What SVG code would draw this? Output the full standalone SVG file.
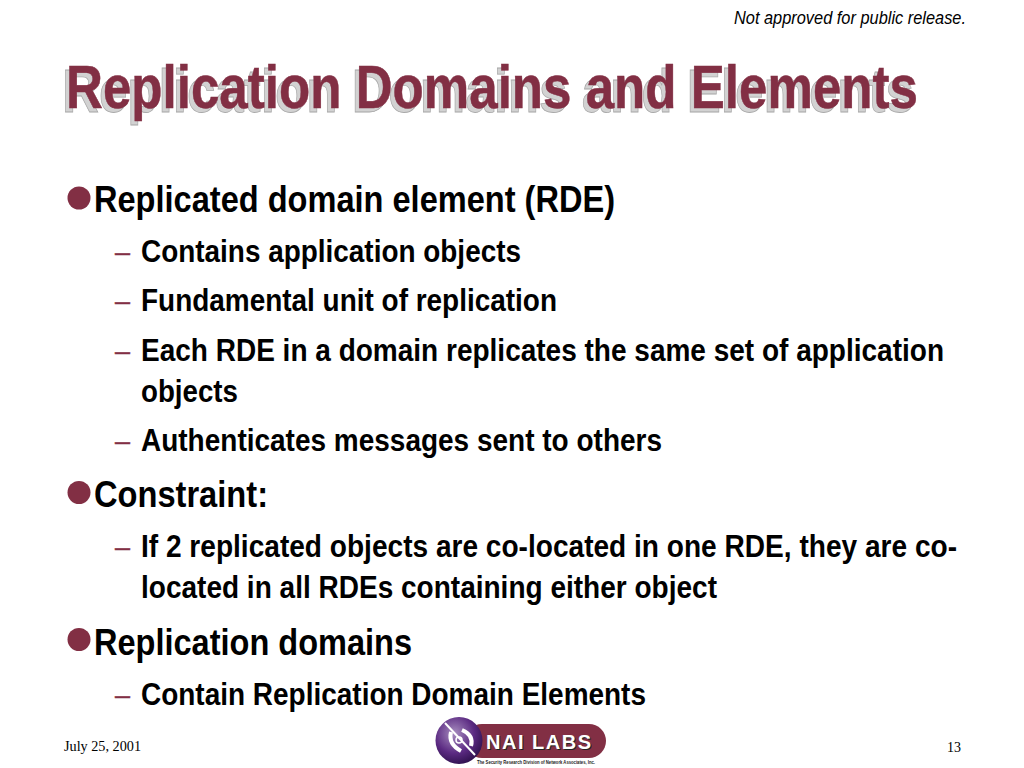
<svg xmlns="http://www.w3.org/2000/svg" width="1024" height="768" viewBox="0 0 1024 768">
<style>
text{font-family:"Liberation Sans",Arial,sans-serif}
.t{font-size:61px;font-weight:bold}
.l1{font-size:36px;font-weight:bold;fill:#000}
.l2{font-size:31px;font-weight:bold;fill:#000}
.d{font-size:27px;fill:#822f44;stroke:#822f44;stroke-width:0.4}
.s{font-family:"Liberation Serif",serif;font-size:14px;fill:#000}
</style>
<defs>
<radialGradient id="g" cx="0.4" cy="0.35" r="0.7"><stop offset="0" stop-color="#a88ec0"/><stop offset="0.6" stop-color="#5b2a82"/><stop offset="1" stop-color="#2c0f4a"/></radialGradient>
</defs>
<rect width="1024" height="768" fill="#fff"/>
<text x="734" y="24" font-size="18" font-style="italic" textLength="232" lengthAdjust="spacingAndGlyphs">Not approved for public release.</text>
<g id="title">
<text class="t" x="62" y="112" fill="#d2d2d2" stroke="#a8a8a8" stroke-width="0.8" textLength="852" lengthAdjust="spacingAndGlyphs">Replication Domains and Elements</text>
<text class="t" x="66" y="108" fill="#822f44" stroke="#822f44" stroke-width="0.5" textLength="852" lengthAdjust="spacingAndGlyphs">Replication Domains and Elements</text>
</g>
<g id="body">
<circle cx="79" cy="198" r="11.5" fill="#822f44"/>
<text class="l1" x="94" y="212" textLength="521" lengthAdjust="spacingAndGlyphs">Replicated domain element (RDE)</text>
<text class="d" x="115" y="261">–</text>
<text class="l2" x="141" y="262" textLength="380" lengthAdjust="spacingAndGlyphs">Contains application objects</text>
<text class="d" x="115" y="310">–</text>
<text class="l2" x="141" y="311" textLength="416" lengthAdjust="spacingAndGlyphs">Fundamental unit of replication</text>
<text class="d" x="115" y="360">–</text>
<text class="l2" x="141" y="361" textLength="803" lengthAdjust="spacingAndGlyphs">Each RDE in a domain replicates the same set of application</text>
<text class="l2" x="141" y="402" textLength="97" lengthAdjust="spacingAndGlyphs">objects</text>
<text class="d" x="115" y="450">–</text>
<text class="l2" x="141" y="451" textLength="521" lengthAdjust="spacingAndGlyphs">Authenticates messages sent to others</text>
<circle cx="79" cy="492.5" r="11.5" fill="#822f44"/>
<text class="l1" x="94" y="507" textLength="174" lengthAdjust="spacingAndGlyphs">Constraint:</text>
<text class="d" x="115" y="556">–</text>
<text class="l2" x="141" y="557" textLength="816" lengthAdjust="spacingAndGlyphs">If 2 replicated objects are co-located in one RDE, they are co-</text>
<text class="l2" x="141" y="598" textLength="576" lengthAdjust="spacingAndGlyphs">located in all RDEs containing either object</text>
<circle cx="79" cy="639.5" r="11.5" fill="#822f44"/>
<text class="l1" x="94" y="654.5" textLength="318" lengthAdjust="spacingAndGlyphs">Replication domains</text>
<text class="d" x="115" y="704">–</text>
<text class="l2" x="141" y="705" textLength="505" lengthAdjust="spacingAndGlyphs">Contain Replication Domain Elements</text>
</g>
<g id="footer">
<text class="s" x="64" y="751" textLength="77" lengthAdjust="spacingAndGlyphs">July 25, 2001</text>
<text class="s" x="961" y="752" text-anchor="end">13</text>
</g>
<g id="logo">
<rect x="465" y="724" width="141" height="34" rx="17" fill="#822f44"/>
<circle cx="459" cy="740.5" r="23.5" fill="url(#g)"/>
<path d="M445 723 L475 755" stroke="#fff" stroke-width="2" fill="none"/>
<path d="M451 732 Q448 744 461 751 M462 730 Q474 735 471 746" stroke="#fff" stroke-width="4" fill="none"/>
<circle cx="459" cy="740" r="3" fill="none" stroke="#fff" stroke-width="1.5"/>
<text x="487" y="750" font-size="20" font-weight="bold" fill="#222" textLength="105" lengthAdjust="spacing">NAI LABS</text>
<text x="486" y="748.5" font-size="20" font-weight="bold" fill="#fff" textLength="105" lengthAdjust="spacing">NAI LABS</text>
<text x="477" y="764" font-size="5.5" font-weight="bold" fill="#222" textLength="118" lengthAdjust="spacingAndGlyphs">The Security Research Division of Network Associates, Inc.</text>
</g>
</svg>
